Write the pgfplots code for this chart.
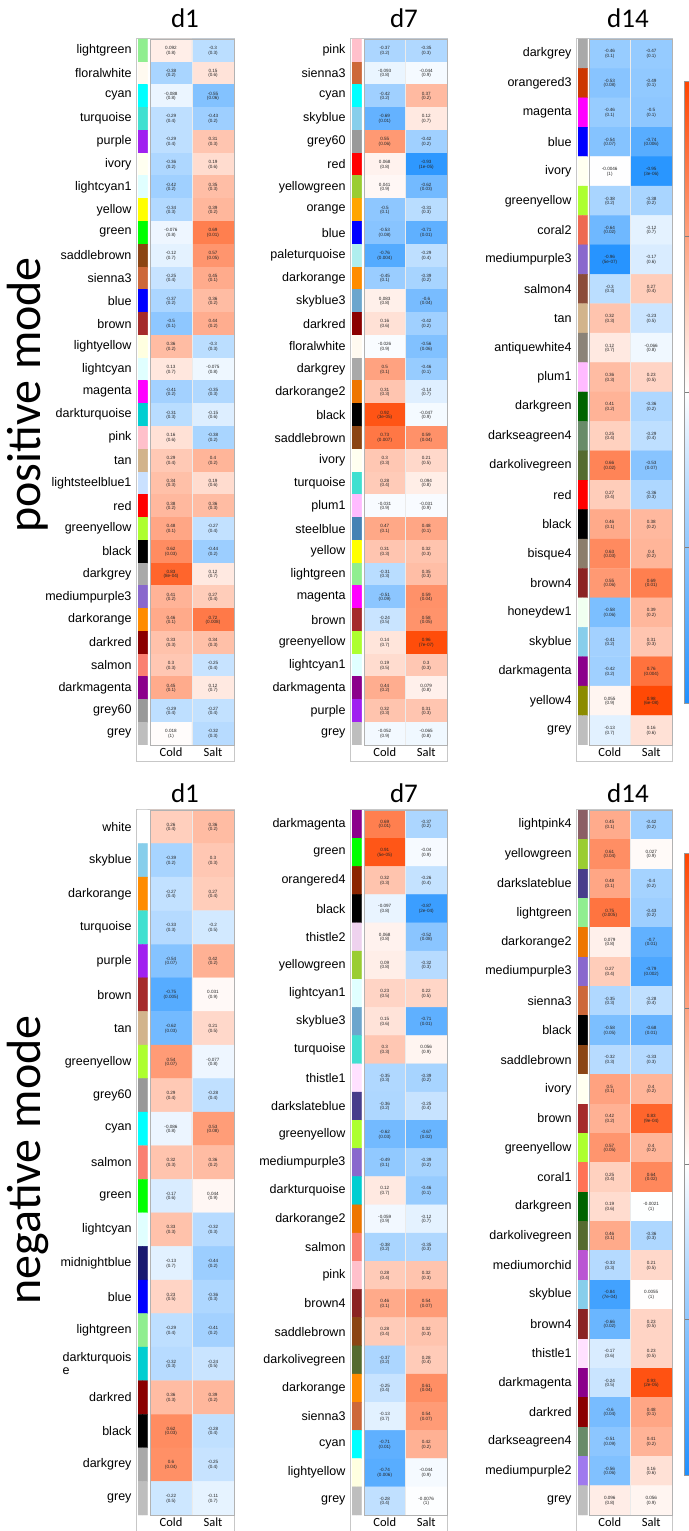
\documentclass[border=0pt]{standalone}
\usepackage{pgfplots}
\pgfplotsset{compat=1.18}
\usepackage{pgfplotstable}
\usepackage{fontspec}
\setmainfont{Liberation Sans}
\newfontfamily\calib{Carlito}

% R module colours
\definecolor{Rlightgreen}{HTML}{90EE90}
\definecolor{Rfloralwhite}{HTML}{FFFAF0}
\definecolor{Rcyan}{HTML}{00FFFF}
\definecolor{Rturquoise}{HTML}{40E0D0}
\definecolor{Rpurple}{HTML}{A020F0}
\definecolor{Rivory}{HTML}{FFFFF0}
\definecolor{Rlightcyan1}{HTML}{E0FFFF}
\definecolor{Ryellow}{HTML}{FFFF00}
\definecolor{Rgreen}{HTML}{00FF00}
\definecolor{Rsaddlebrown}{HTML}{8B4513}
\definecolor{Rsienna3}{HTML}{CD6839}
\definecolor{Rblue}{HTML}{0000FF}
\definecolor{Rbrown}{HTML}{A52A2A}
\definecolor{Rlightyellow}{HTML}{FFFFE0}
\definecolor{Rmagenta}{HTML}{FF00FF}
\definecolor{Rdarkturquoise}{HTML}{00CED1}
\definecolor{Rpink}{HTML}{FFC0CB}
\definecolor{Rtan}{HTML}{D2B48C}
\definecolor{Rlightsteelblue1}{HTML}{CAE1FF}
\definecolor{Rred}{HTML}{FF0000}
\definecolor{Rgreenyellow}{HTML}{ADFF2F}
\definecolor{Rblack}{HTML}{000000}
\definecolor{Rdarkgrey}{HTML}{A9A9A9}
\definecolor{Rmediumpurple3}{HTML}{8968CD}
\definecolor{Rdarkorange}{HTML}{FF8C00}
\definecolor{Rdarkred}{HTML}{8B0000}
\definecolor{Rsalmon}{HTML}{FA8072}
\definecolor{Rdarkmagenta}{HTML}{8B008B}
\definecolor{Rgrey60}{HTML}{999999}
\definecolor{Rgrey}{HTML}{BEBEBE}
\definecolor{Rskyblue}{HTML}{87CEEB}
\definecolor{Ryellowgreen}{HTML}{9ACD32}
\definecolor{Rorange}{HTML}{FFA500}
\definecolor{Rpaleturquoise}{HTML}{AFEEEE}
\definecolor{Rskyblue3}{HTML}{6CA6CD}
\definecolor{Rdarkorange2}{HTML}{EE7600}
\definecolor{Rplum1}{HTML}{FFBBFF}
\definecolor{Rsteelblue}{HTML}{4682B4}
\definecolor{Rorangered3}{HTML}{CD3700}
\definecolor{Rcoral2}{HTML}{EE6A50}
\definecolor{Rsalmon4}{HTML}{8B4C39}
\definecolor{Rantiquewhite4}{HTML}{8B8378}
\definecolor{Rdarkgreen}{HTML}{006400}
\definecolor{Rdarkseagreen4}{HTML}{698B69}
\definecolor{Rdarkolivegreen}{HTML}{556B2F}
\definecolor{Rbisque4}{HTML}{8B7D6B}
\definecolor{Rbrown4}{HTML}{8B2323}
\definecolor{Rhoneydew1}{HTML}{F0FFF0}
\definecolor{Ryellow4}{HTML}{8B8B00}
\definecolor{Rwhite}{HTML}{FFFFFF}
\definecolor{Rmidnightblue}{HTML}{191970}
\definecolor{Rorangered4}{HTML}{8B2500}
\definecolor{Rthistle2}{HTML}{EED2EE}
\definecolor{Rthistle1}{HTML}{FFE1FF}
\definecolor{Rdarkslateblue}{HTML}{483D8B}
\definecolor{Rlightpink4}{HTML}{8B5F65}
\definecolor{Rcoral1}{HTML}{FF7256}
\definecolor{Rmediumorchid}{HTML}{BA55D3}
\definecolor{Rmediumpurple2}{HTML}{9F79EE}

\pgfplotsset{
  colormap={bwr}{rgb255=(30,144,255) rgb255=(255,255,255) rgb255=(255,69,0)},
  colormap={mA}{color=(Rlightgreen) color=(Rfloralwhite) color=(Rcyan) color=(Rturquoise) color=(Rpurple) color=(Rivory) color=(Rlightcyan1) color=(Ryellow) color=(Rgreen) color=(Rsaddlebrown) color=(Rsienna3) color=(Rblue) color=(Rbrown) color=(Rlightyellow) color=(Rlightcyan1) color=(Rmagenta) color=(Rdarkturquoise) color=(Rpink) color=(Rtan) color=(Rlightsteelblue1) color=(Rred) color=(Rgreenyellow) color=(Rblack) color=(Rdarkgrey) color=(Rmediumpurple3) color=(Rdarkorange) color=(Rdarkred) color=(Rsalmon) color=(Rdarkmagenta) color=(Rgrey60) color=(Rgrey)},
  colormap={mB}{color=(Rpink) color=(Rsienna3) color=(Rcyan) color=(Rskyblue) color=(Rgrey60) color=(Rred) color=(Ryellowgreen) color=(Rorange) color=(Rblue) color=(Rpaleturquoise) color=(Rdarkorange) color=(Rskyblue3) color=(Rdarkred) color=(Rfloralwhite) color=(Rdarkgrey) color=(Rdarkorange2) color=(Rblack) color=(Rsaddlebrown) color=(Rivory) color=(Rturquoise) color=(Rplum1) color=(Rsteelblue) color=(Ryellow) color=(Rlightgreen) color=(Rmagenta) color=(Rbrown) color=(Rgreenyellow) color=(Rlightcyan1) color=(Rdarkmagenta) color=(Rpurple) color=(Rgrey)},
  colormap={mC}{color=(Rdarkgrey) color=(Rorangered3) color=(Rmagenta) color=(Rblue) color=(Rivory) color=(Rgreenyellow) color=(Rcoral2) color=(Rmediumpurple3) color=(Rsalmon4) color=(Rtan) color=(Rantiquewhite4) color=(Rplum1) color=(Rdarkgreen) color=(Rdarkseagreen4) color=(Rdarkolivegreen) color=(Rred) color=(Rblack) color=(Rbisque4) color=(Rbrown4) color=(Rhoneydew1) color=(Rskyblue) color=(Rdarkmagenta) color=(Ryellow4) color=(Rgrey)},
  colormap={mD}{color=(Rwhite) color=(Rskyblue) color=(Rdarkorange) color=(Rturquoise) color=(Rpurple) color=(Rbrown) color=(Rtan) color=(Rgreenyellow) color=(Rgrey60) color=(Rcyan) color=(Rsalmon) color=(Rgreen) color=(Rlightcyan1) color=(Rmidnightblue) color=(Rblue) color=(Rlightgreen) color=(Rdarkturquoise) color=(Rdarkred) color=(Rblack) color=(Rdarkgrey) color=(Rgrey)},
  colormap={mE}{color=(Rdarkmagenta) color=(Rgreen) color=(Rorangered4) color=(Rblack) color=(Rthistle2) color=(Ryellowgreen) color=(Rlightcyan1) color=(Rskyblue3) color=(Rturquoise) color=(Rthistle1) color=(Rdarkslateblue) color=(Rgreenyellow) color=(Rmediumpurple3) color=(Rdarkturquoise) color=(Rdarkorange2) color=(Rsalmon) color=(Rpink) color=(Rbrown4) color=(Rsaddlebrown) color=(Rdarkolivegreen) color=(Rdarkorange) color=(Rsienna3) color=(Rcyan) color=(Rlightyellow) color=(Rgrey)},
  colormap={mF}{color=(Rlightpink4) color=(Ryellowgreen) color=(Rdarkslateblue) color=(Rlightgreen) color=(Rdarkorange2) color=(Rmediumpurple3) color=(Rsienna3) color=(Rblack) color=(Rsaddlebrown) color=(Rivory) color=(Rbrown) color=(Rgreenyellow) color=(Rcoral1) color=(Rdarkgreen) color=(Rdarkolivegreen) color=(Rmediumorchid) color=(Rskyblue) color=(Rbrown4) color=(Rthistle1) color=(Rdarkmagenta) color=(Rdarkred) color=(Rdarkseagreen4) color=(Rmediumpurple2) color=(Rgrey)},
  heat/.style={
    scale only axis, anchor=north west,
    y dir=reverse, enlargelimits=false,
    xmin=-0.5, xmax=1.5,
    xtick={0,1}, xticklabels={Cold,Salt},
    xticklabel style={font=\calib\fontsize{12.5}{12.5}\selectfont, yshift=1pt},
    ytick=\empty, minor xtick={0.5},
    grid=minor, minor grid style={white!92!black, line width=0.4pt},
    major tick length=0pt, minor tick length=0pt,
    axis on top, axis line style={black!30},
    colormap name=bwr, point meta min=-1, point meta max=1,
  },
  strip/.style={
    scale only axis, anchor=north west, width=9.5pt,
    y dir=reverse, enlargelimits=false,
    xmin=-0.5, xmax=1.5, xtick=\empty,
    axis line style={draw=none},
    major tick length=0pt,
    yticklabel style={font=\fontsize{12.5}{13}\selectfont, align=left, xshift=-3pt},
  },
  hcells/.style={matrix plot*, mesh/cols=2, point meta=\thisrow{r}},
  scells/.style={matrix plot*, mesh/cols=2, point meta=\thisrow{y},
    colormap name=#1, colormap access=direct},
  rtxt/.style={draw=none, mark=none, point meta=explicit symbolic,
    nodes near coords,
    every node near coord/.append style={anchor=center, inner sep=0pt, yshift=2.3pt,
      font=\fontsize{4.6}{5}\selectfont, text=black!85}},
  ptxt/.style={draw=none, mark=none, point meta=explicit symbolic,
    nodes near coords={(\pgfplotspointmeta)},
    every node near coord/.append style={anchor=center, inner sep=0pt, yshift=-2.6pt,
      font=\fontsize{4.6}{5}\selectfont, text=black!85}},
  cbar/.style={colorbar, colorbar style={
    at={(parent axis.north east)}, anchor=north west,
    xshift=4pt, yshift=#1, width=6pt, height=622pt, y dir=normal,
    ytick={-1,-0.5,0,0.5,1}, axis line style={black!40},
    tick style={black!50}, major tick length=3pt,
    yticklabel style={font=\fontsize{11}{11}\selectfont, xshift=-5.5pt},
    /pgf/number format/assume math mode=true}},
}

% columns: x = trait (0 Cold, 1 Salt), y = module row, r = correlation, p = p-value
\pgfplotstableread{
x y r p
0 0 0.092 0.8
1 0 -0.3 0.3
0 1 -0.38 0.2
1 1 0.15 0.6
0 2 -0.088 0.8
1 2 -0.55 0.06
0 3 -0.29 0.4
1 3 -0.43 0.2
0 4 -0.29 0.4
1 4 0.31 0.3
0 5 -0.36 0.2
1 5 0.19 0.6
0 6 -0.42 0.2
1 6 0.35 0.3
0 7 -0.34 0.3
1 7 0.39 0.2
0 8 -0.076 0.8
1 8 0.69 0.01
0 9 -0.12 0.7
1 9 0.57 0.05
0 10 -0.25 0.4
1 10 0.45 0.1
0 11 -0.37 0.2
1 11 0.36 0.2
0 12 -0.5 0.1
1 12 0.44 0.2
0 13 0.36 0.2
1 13 -0.3 0.3
0 14 0.13 0.7
1 14 -0.075 0.8
0 15 -0.41 0.2
1 15 -0.35 0.3
0 16 -0.31 0.3
1 16 -0.15 0.6
0 17 0.16 0.6
1 17 -0.38 0.2
0 18 0.29 0.4
1 18 0.4 0.2
0 19 0.34 0.3
1 19 0.19 0.6
0 20 0.38 0.2
1 20 0.36 0.3
0 21 0.48 0.1
1 21 -0.27 0.4
0 22 0.62 0.03
1 22 -0.44 0.2
0 23 0.83 8e-04
1 23 0.12 0.7
0 24 0.41 0.2
1 24 0.27 0.4
0 25 0.46 0.1
1 25 0.72 0.008
0 26 0.33 0.3
1 26 0.34 0.3
0 27 0.3 0.3
1 27 -0.25 0.4
0 28 0.45 0.1
1 28 0.12 0.7
0 29 -0.29 0.4
1 29 -0.27 0.4
0 30 0.018 1
1 30 -0.32 0.3
}\dA

\pgfplotstableread{
x y r p
0 0 -0.37 0.2
1 0 -0.35 0.3
0 1 -0.093 0.8
1 1 -0.044 0.9
0 2 -0.42 0.2
1 2 0.37 0.2
0 3 -0.69 0.01
1 3 0.12 0.7
0 4 0.55 0.06
1 4 -0.42 0.2
0 5 0.068 0.8
1 5 -0.93 1e-05
0 6 0.041 0.9
1 6 -0.62 0.03
0 7 -0.5 0.1
1 7 -0.31 0.3
0 8 -0.53 0.08
1 8 -0.71 0.01
0 9 -0.76 0.004
1 9 -0.29 0.4
0 10 -0.45 0.1
1 10 -0.39 0.2
0 11 0.083 0.8
1 11 -0.6 0.04
0 12 0.16 0.6
1 12 -0.42 0.2
0 13 -0.026 0.9
1 13 -0.56 0.06
0 14 0.5 0.1
1 14 -0.46 0.1
0 15 0.31 0.3
1 15 -0.14 0.7
0 16 0.92 3e-05
1 16 -0.047 0.9
0 17 0.73 0.007
1 17 0.59 0.04
0 18 0.3 0.3
1 18 0.21 0.5
0 19 0.28 0.4
1 19 0.094 0.8
0 20 -0.031 0.9
1 20 -0.031 0.9
0 21 0.47 0.1
1 21 0.48 0.1
0 22 0.31 0.3
1 22 0.32 0.3
0 23 -0.31 0.3
1 23 0.35 0.3
0 24 -0.51 0.09
1 24 0.59 0.04
0 25 -0.24 0.5
1 25 0.58 0.05
0 26 0.14 0.7
1 26 0.96 7e-07
0 27 0.19 0.5
1 27 0.3 0.3
0 28 0.44 0.2
1 28 0.079 0.8
0 29 0.32 0.3
1 29 0.31 0.3
0 30 -0.052 0.9
1 30 -0.065 0.8
}\dB

\pgfplotstableread{
x y r p
0 0 -0.46 0.1
1 0 -0.47 0.1
0 1 -0.53 0.08
1 1 -0.49 0.1
0 2 -0.46 0.1
1 2 -0.5 0.1
0 3 -0.54 0.07
1 3 -0.74 0.006
0 4 -0.0046 1
1 4 -0.95 3e-06
0 5 -0.38 0.2
1 5 -0.38 0.2
0 6 -0.64 0.02
1 6 -0.12 0.7
0 7 -0.96 5e-07
1 7 -0.17 0.6
0 8 -0.3 0.3
1 8 0.27 0.4
0 9 0.32 0.3
1 9 -0.23 0.5
0 10 0.12 0.7
1 10 -0.066 0.8
0 11 0.36 0.3
1 11 0.23 0.5
0 12 0.41 0.2
1 12 -0.36 0.2
0 13 0.25 0.4
1 13 -0.29 0.4
0 14 0.66 0.02
1 14 -0.53 0.07
0 15 0.27 0.4
1 15 -0.36 0.3
0 16 0.46 0.1
1 16 0.38 0.2
0 17 0.63 0.03
1 17 0.4 0.2
0 18 0.55 0.06
1 18 0.69 0.01
0 19 -0.58 0.06
1 19 0.39 0.2
0 20 -0.41 0.2
1 20 0.31 0.3
0 21 -0.42 0.2
1 21 0.76 0.004
0 22 0.055 0.9
1 22 0.98 6e-08
0 23 -0.13 0.7
1 23 0.16 0.6
}\dC

\pgfplotstableread{
x y r p
0 0 0.26 0.4
1 0 0.36 0.2
0 1 -0.39 0.2
1 1 0.3 0.3
0 2 -0.27 0.4
1 2 0.27 0.4
0 3 -0.33 0.3
1 3 -0.2 0.5
0 4 -0.54 0.07
1 4 0.42 0.2
0 5 -0.75 0.005
1 5 0.031 0.9
0 6 -0.62 0.03
1 6 0.21 0.5
0 7 0.54 0.07
1 7 -0.077 0.8
0 8 0.29 0.4
1 8 -0.28 0.4
0 9 -0.086 0.8
1 9 0.53 0.08
0 10 0.32 0.3
1 10 0.36 0.2
0 11 -0.17 0.6
1 11 0.044 0.9
0 12 0.33 0.3
1 12 -0.32 0.3
0 13 -0.13 0.7
1 13 -0.44 0.2
0 14 0.23 0.5
1 14 -0.36 0.3
0 15 -0.29 0.4
1 15 -0.41 0.2
0 16 -0.32 0.3
1 16 -0.24 0.5
0 17 0.36 0.3
1 17 0.39 0.2
0 18 0.62 0.03
1 18 -0.28 0.4
0 19 0.6 0.04
1 19 -0.25 0.4
0 20 -0.22 0.5
1 20 -0.11 0.7
}\dD

\pgfplotstableread{
x y r p
0 0 0.69 0.01
1 0 -0.37 0.2
0 1 0.91 5e-05
1 1 -0.04 0.9
0 2 0.32 0.3
1 2 -0.26 0.4
0 3 -0.097 0.8
1 3 -0.87 2e-04
0 4 0.068 0.8
1 4 -0.52 0.08
0 5 0.09 0.8
1 5 -0.32 0.3
0 6 0.23 0.5
1 6 0.22 0.5
0 7 0.15 0.6
1 7 -0.71 0.01
0 8 0.3 0.3
1 8 0.056 0.9
0 9 -0.35 0.3
1 9 -0.39 0.2
0 10 -0.36 0.2
1 10 -0.25 0.4
0 11 -0.62 0.03
1 11 -0.67 0.02
0 12 -0.49 0.1
1 12 -0.39 0.2
0 13 0.12 0.7
1 13 -0.46 0.1
0 14 -0.059 0.9
1 14 -0.12 0.7
0 15 -0.38 0.2
1 15 -0.35 0.3
0 16 0.28 0.4
1 16 0.32 0.3
0 17 0.46 0.1
1 17 0.54 0.07
0 18 0.28 0.4
1 18 0.32 0.3
0 19 -0.37 0.2
1 19 0.28 0.4
0 20 -0.25 0.4
1 20 0.61 0.04
0 21 -0.13 0.7
1 21 0.54 0.07
0 22 -0.71 0.01
1 22 0.42 0.2
0 23 -0.74 0.006
1 23 -0.044 0.9
0 24 -0.28 0.4
1 24 -0.0076 1
}\dE

\pgfplotstableread{
x y r p
0 0 0.45 0.1
1 0 -0.42 0.2
0 1 0.61 0.04
1 1 0.027 0.9
0 2 0.48 0.1
1 2 -0.4 0.2
0 3 0.75 0.005
1 3 -0.43 0.2
0 4 0.079 0.8
1 4 -0.7 0.01
0 5 0.27 0.4
1 5 -0.79 0.002
0 6 -0.35 0.3
1 6 -0.28 0.4
0 7 -0.58 0.05
1 7 -0.68 0.01
0 8 -0.32 0.3
1 8 -0.33 0.3
0 9 0.5 0.1
1 9 0.4 0.2
0 10 0.42 0.2
1 10 0.83 9e-04
0 11 0.57 0.05
1 11 0.4 0.2
0 12 0.25 0.4
1 12 0.64 0.02
0 13 0.19 0.6
1 13 -0.0021 1
0 14 0.46 0.1
1 14 -0.36 0.3
0 15 -0.33 0.3
1 15 0.21 0.5
0 16 -0.84 7e-04
1 16 0.0055 1
0 17 -0.66 0.02
1 17 0.23 0.5
0 18 -0.17 0.6
1 18 0.23 0.5
0 19 -0.24 0.5
1 19 0.93 2e-05
0 20 -0.6 0.04
1 20 0.48 0.1
0 21 -0.51 0.09
1 21 0.41 0.2
0 22 -0.56 0.06
1 22 0.16 0.6
0 23 0.096 0.8
1 23 0.056 0.9
}\dF

\begin{document}
\begin{tikzpicture}
\path[use as bounding box] (0,0) rectangle (688pt,1531pt);

% outer frames
\foreach \xl/\xr in {136/234,350/447,576/672}{
  \draw[black!22, line width=0.6pt] (\xl pt,1493pt) rectangle (\xr pt,770pt);
  \draw[black!22, line width=0.6pt] (\xl pt,722pt) rectangle (\xr pt,-2pt);
}

% ---------- positive mode ----------
\begin{axis}[strip, at={(138pt,1492pt)}, height=706pt, ymin=-0.5, ymax=30.5,
  ytick={0,...,30},
  yticklabels={lightgreen,floralwhite,cyan,turquoise,purple,ivory,lightcyan1,yellow,green,saddlebrown,sienna3,blue,brown,lightyellow,lightcyan,magenta,darkturquoise,pink,tan,lightsteelblue1,red,greenyellow,black,darkgrey,mediumpurple3,darkorange,darkred,salmon,darkmagenta,grey60,grey}]
\addplot[scells=mA] table {\dA};
\end{axis}
\begin{axis}[heat, at={(150pt,1492pt)}, width=84pt, height=706pt, ymin=-0.5, ymax=30.5,
  minor ytick={0.5,1.5,...,29.5}]
\addplot[hcells] table {\dA};
\addplot[rtxt] table[meta=r] {\dA};
\addplot[ptxt] table[meta=p] {\dA};
\end{axis}

\begin{axis}[strip, at={(352pt,1492pt)}, height=706pt, ymin=-0.5, ymax=30.5,
  ytick={0,...,30},
  yticklabels={pink,sienna3,cyan,skyblue,grey60,red,yellowgreen,orange,blue,paleturquoise,darkorange,skyblue3,darkred,floralwhite,darkgrey,darkorange2,black,saddlebrown,ivory,turquoise,plum1,steelblue,yellow,lightgreen,magenta,brown,greenyellow,lightcyan1,darkmagenta,purple,grey}]
\addplot[scells=mB] table {\dB};
\end{axis}
\begin{axis}[heat, at={(364pt,1492pt)}, width=83pt, height=706pt, ymin=-0.5, ymax=30.5,
  minor ytick={0.5,1.5,...,29.5}]
\addplot[hcells] table {\dB};
\addplot[rtxt] table[meta=r] {\dB};
\addplot[ptxt] table[meta=p] {\dB};
\end{axis}

\begin{axis}[strip, at={(578pt,1492pt)}, height=706pt, ymin=-0.5, ymax=23.5,
  ytick={0,...,23},
  yticklabels={darkgrey,orangered3,magenta,blue,ivory,greenyellow,coral2,mediumpurple3,salmon4,tan,antiquewhite4,plum1,darkgreen,darkseagreen4,darkolivegreen,red,black,bisque4,brown4,honeydew1,skyblue,darkmagenta,yellow4,grey}]
\addplot[scells=mC] table {\dC};
\end{axis}
\begin{axis}[heat, at={(589pt,1492pt)}, width=83pt, height=706pt, ymin=-0.5, ymax=23.5,
  minor ytick={0.5,1.5,...,22.5}, cbar=-42pt]
\addplot[hcells] table {\dC};
\addplot[rtxt] table[meta=r] {\dC};
\addplot[ptxt] table[meta=p] {\dC};
\end{axis}

% ---------- negative mode ----------
\begin{axis}[strip, at={(138pt,721pt)}, height=705pt, ymin=-0.5, ymax=20.5,
  ytick={0,...,20},
  yticklabels={white,skyblue,darkorange,turquoise,purple,brown,tan,greenyellow,grey60,cyan,salmon,green,lightcyan,midnightblue,blue,lightgreen,{darkturquois\\e},darkred,black,darkgrey,grey}]
\addplot[scells=mD] table {\dD};
\end{axis}
\begin{axis}[heat, at={(150pt,721pt)}, width=84pt, height=705pt, ymin=-0.5, ymax=20.5,
  minor ytick={0.5,1.5,...,19.5}]
\addplot[hcells] table {\dD};
\addplot[rtxt] table[meta=r] {\dD};
\addplot[ptxt] table[meta=p] {\dD};
\end{axis}

\begin{axis}[strip, at={(352pt,721pt)}, height=705pt, ymin=-0.5, ymax=24.5,
  ytick={0,...,24},
  yticklabels={darkmagenta,green,orangered4,black,thistle2,yellowgreen,lightcyan1,skyblue3,turquoise,thistle1,darkslateblue,greenyellow,mediumpurple3,darkturquoise,darkorange2,salmon,pink,brown4,saddlebrown,darkolivegreen,darkorange,sienna3,cyan,lightyellow,grey}]
\addplot[scells=mE] table {\dE};
\end{axis}
\begin{axis}[heat, at={(364pt,721pt)}, width=83pt, height=705pt, ymin=-0.5, ymax=24.5,
  minor ytick={0.5,1.5,...,23.5}]
\addplot[hcells] table {\dE};
\addplot[rtxt] table[meta=r] {\dE};
\addplot[ptxt] table[meta=p] {\dE};
\end{axis}

\begin{axis}[strip, at={(578pt,721pt)}, height=705pt, ymin=-0.5, ymax=23.5,
  ytick={0,...,23},
  yticklabels={lightpink4,yellowgreen,darkslateblue,lightgreen,darkorange2,mediumpurple3,sienna3,black,saddlebrown,ivory,brown,greenyellow,coral1,darkgreen,darkolivegreen,mediumorchid,skyblue,brown4,thistle1,darkmagenta,darkred,darkseagreen4,mediumpurple2,grey}]
\addplot[scells=mF] table {\dF};
\end{axis}
\begin{axis}[heat, at={(589pt,721pt)}, width=83pt, height=705pt, ymin=-0.5, ymax=23.5,
  minor ytick={0.5,1.5,...,22.5}, cbar=-43pt]
\addplot[hcells] table {\dF};
\addplot[rtxt] table[meta=r] {\dF};
\addplot[ptxt] table[meta=p] {\dF};
\end{axis}

% titles and row headings
\foreach \xx/\tt in {185/d1,404/d7,628/d14}{
  \node[font=\calib\fontsize{27}{27}\selectfont] at (\xx pt,1513pt) {\tt};
  \node[font=\calib\fontsize{27}{27}\selectfont] at (\xx pt,738pt) {\tt};
}
\node[rotate=90, font=\calib\fontsize{48}{48}\selectfont] at (28pt,1136pt) {positive mode};
\node[rotate=90, font=\calib\fontsize{48}{48}\selectfont] at (28pt,371pt) {negative mode};
\end{tikzpicture}
\end{document}
